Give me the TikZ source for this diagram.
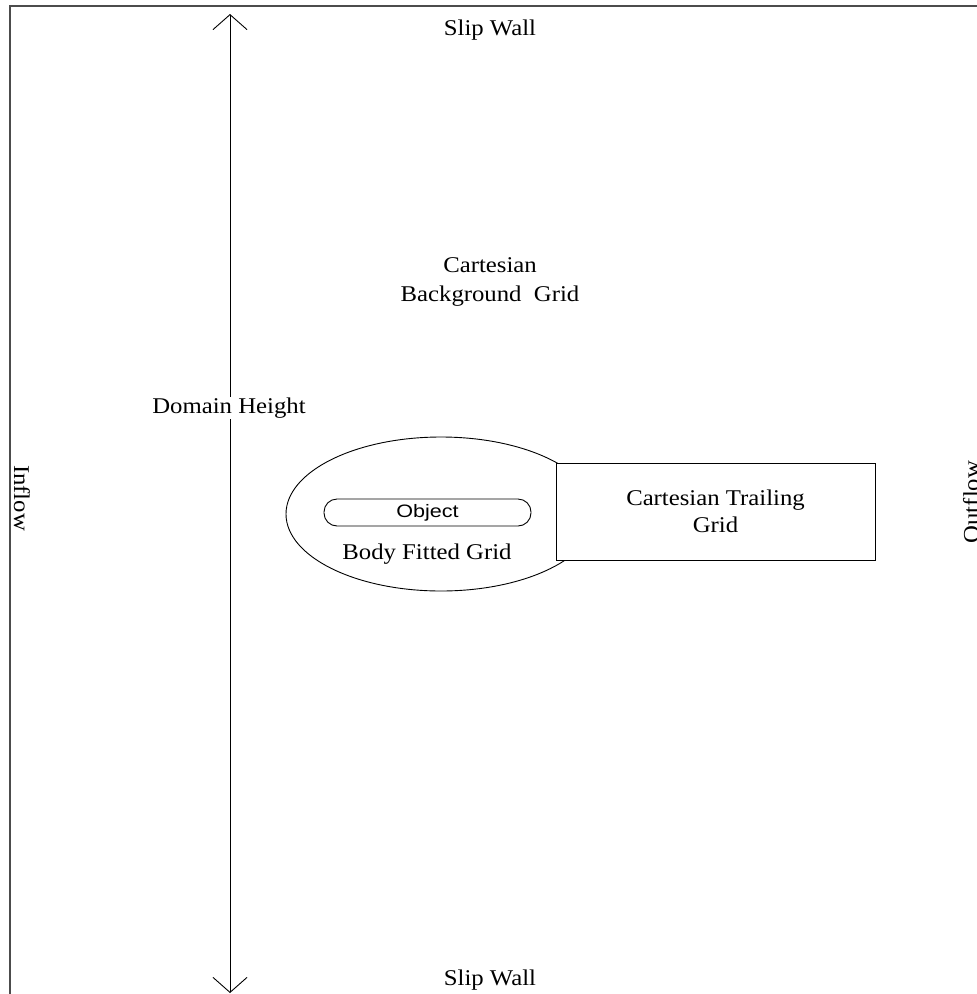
\documentclass[tikz,border=0pt]{standalone}
\usepackage{fontspec}
\setmainfont[FakeStretch=1.1]{Liberation Serif}
\setsansfont[FakeStretch=1.2]{Liberation Sans}
\usetikzlibrary{arrows.meta}
\usetikzlibrary{shapes.geometric}

\begin{document}
\begin{tikzpicture}[ > = {Straight Barb[length=15pt,width=34pt]}, x=1pt, y=-1pt,
    every node/.style={font=\fontsize{22.5}{29}\selectfont}]

         \useasboundingbox (0,0) rectangle (977,994);
         \draw[black!70, line width=1.5pt] (10,6) rectangle (1010,1010);

         \node(wallT) at (490,30) {Slip Wall};
         \node(wallB) at (490,980) {Slip Wall};
         \node(bg) at (490,282) [align=center]{Cartesian\\Background~~Grid};

         \coordinate (up) at (230,14);
         \coordinate (down) at (230,993);
         \draw[<->, line width=0.9pt] (down) -- (up);
         \node(dh) at (229,408) [fill=white, inner sep=1pt]{Domain Height};

         \node(inflow) at (22,498) [rotate=-90]{Inflow};
         \node(outflow) at (971,502) [rotate=90]{Outflow};

         \node(bfg) at (441,514) [draw, ellipse, line width=0.9pt, minimum width=310pt, minimum height=154pt]{};
         \node(trail) at (715.5,511.5) [draw, fill=white, line width=0.9pt, minimum width=319pt, minimum height=97pt, align=center]{Cartesian Trailing\\[-2pt]Grid};
         \node(obj) at (427.5,512.5) [draw, rounded corners=13pt, line width=0.9pt, minimum width=207pt, minimum height=27pt, inner sep=0pt, font=\sffamily\fontsize{18}{20}\selectfont]{Object};
         \node(fit) at (427,554) {Body Fitted Grid};

\end{tikzpicture}
\end{document}
